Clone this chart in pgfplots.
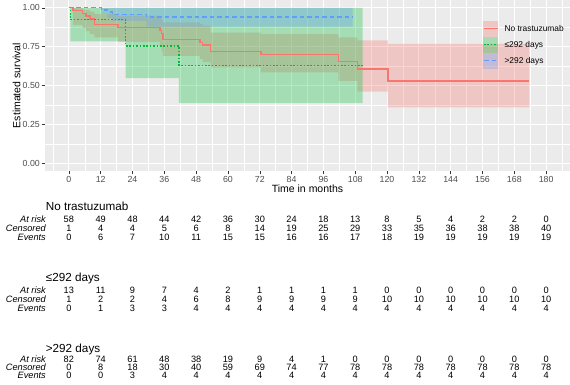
\documentclass[border=0pt]{standalone}
\usepackage{pgfplots}
\pgfplotsset{compat=1.18}
\usepackage{pgfplotstable}
\usepgfplotslibrary{fillbetween}
\usepackage{fontspec}
\setmainfont{Liberation Sans}
\definecolor{cRed}{HTML}{F8766D}
\definecolor{cGreen}{HTML}{00BA38}
\definecolor{cBlue}{HTML}{619CFF}
\definecolor{panel}{HTML}{EBEBEB}
\definecolor{tickcol}{HTML}{333333}
\definecolor{labcol}{HTML}{4D4D4D}

% survival curves: time, estimate, lower, upper
\pgfplotstableread{
t S L U
0 1 1 1
1.6 0.982 0.89 0.998
5.2 0.965 0.87 0.99
6.4 0.947 0.85 0.985
7.9 0.929 0.83 0.975
9.6 0.891 0.81 0.96
18.6 0.874 0.78 0.95
34.3 0.853 0.75 0.935
35.0 0.834 0.72 0.92
35.5 0.797 0.69 0.906
49.4 0.778 0.67 0.895
50.5 0.760 0.65 0.885
53.5 0.720 0.617 0.84
72.4 0.698 0.585 0.83
101.6 0.655 0.53 0.81
108.8 0.605 0.46 0.79
120.3 0.528 0.36 0.767
173.7 0.528 0.36 0.767
}\redT
\pgfplotstableread{
t S L U
0 1 1 1
0.6 0.923 0.784 1
21.4 0.755 0.547 1
41.5 0.629 0.387 1
110.8 0.629 0.387 1
}\greenT
\pgfplotstableread{
t S L U
0 1 1 1
12.3 0.986 0.96 1
14.5 0.972 0.935 1
16.5 0.958 0.915 1
29.3 0.940 0.878 1
107 0.940 0.878 1
}\blueT

% risk tables
\pgfplotstableread{
t risk cens ev
0 58 1 0
12 49 4 6
24 48 4 7
36 44 5 10
48 42 6 11
60 36 8 15
72 30 14 15
84 24 19 16
96 18 25 16
108 13 29 17
120 8 33 18
132 5 35 19
144 4 36 19
156 2 38 19
168 2 38 19
180 0 40 19
}\tabA
\pgfplotstableread{
t risk cens ev
0 13 1 0
12 11 2 1
24 9 2 3
36 7 4 3
48 4 6 4
60 2 8 4
72 1 9 4
84 1 9 4
96 1 9 4
108 1 9 4
120 0 10 4
132 0 10 4
144 0 10 4
156 0 10 4
168 0 10 4
180 0 10 4
}\tabB
\pgfplotstableread{
t risk cens ev
0 82 0 0
12 74 8 0
24 61 18 3
36 48 30 4
48 38 40 4
60 19 59 4
72 9 69 4
84 4 74 4
96 1 77 4
108 0 78 4
120 0 78 4
132 0 78 4
144 0 78 4
156 0 78 4
168 0 78 4
180 0 78 4
}\tabC

\begin{document}
\begin{tikzpicture}
\begin{axis}[
  at={(45pt,0pt)}, anchor=north west,
  width=525pt, height=171pt, scale only axis,
  xmin=-9, xmax=189, ymin=-0.05, ymax=1.05,
  axis background/.style={fill=panel},
  axis line style={draw=none},
  xtick={0,12,...,180}, ytick={0,0.25,0.5,0.75,1},
  minor xtick={-6,6,...,186}, minor ytick={0.125,0.375,0.625,0.875},
  grid=both,
  major grid style={white, line width=1pt},
  minor grid style={white, line width=0.5pt},
  tick pos=left, tick align=outside,
  major tick length=2.75pt, minor tick length=0pt,
  tick style={tickcol, line width=0.5pt},
  /pgf/number format/assume math mode=true,
  ticklabel style={font=\fontsize{8.8}{10}\selectfont, text=labcol, inner sep=0pt},
  yticklabel style={/pgf/number format/fixed, /pgf/number format/fixed zerofill, /pgf/number format/precision=2, xshift=-2.2pt},
  xticklabel style={yshift=-2.2pt},
]
\addplot[draw=none, const plot, name path=rU] table[x=t,y=U]{\redT};
\addplot[draw=none, const plot, name path=rL] table[x=t,y=L]{\redT};
\addplot[fill=cRed, fill opacity=0.3, draw=none] fill between[of=rU and rL];
\addplot[draw=none, const plot, name path=gU] table[x=t,y=U]{\greenT};
\addplot[draw=none, const plot, name path=gL] table[x=t,y=L]{\greenT};
\addplot[fill=cGreen, fill opacity=0.3, draw=none] fill between[of=gU and gL];
\addplot[draw=none, const plot, name path=bU] table[x=t,y=U]{\blueT};
\addplot[draw=none, const plot, name path=bL] table[x=t,y=L]{\blueT};
\addplot[fill=cBlue, fill opacity=0.3, draw=none] fill between[of=bU and bL];

\addplot[cRed, line width=1.4pt, const plot, mark=none] table[x=t,y=S]{\redT};
\addplot[cGreen, line width=1.3pt, const plot, mark=none, dash pattern=on 1.6pt off 1.8pt] table[x=t,y=S]{\greenT};
\addplot[cBlue, line width=1.3pt, const plot, mark=none, dash pattern=on 4.5pt off 3pt] table[x=t,y=S]{\blueT};
\end{axis}

\begin{axis}[
  at={(45pt,-171pt)}, anchor=north west,
  width=525pt, height=214pt, scale only axis,
  xmin=-9, xmax=189, ymin=171, ymax=385, y dir=reverse,
  hide axis, clip=false,
  nodes near coords, point meta=explicit symbolic,
  every node near coord/.style={anchor=base, inner sep=0pt, font=\fontsize{9.2}{9}\selectfont, text=black},
]
\addplot[draw=none, mark=none] table[x=t, y expr=222.7, meta=risk]{\tabA};
\addplot[draw=none, mark=none] table[x=t, y expr=231.5, meta=cens]{\tabA};
\addplot[draw=none, mark=none] table[x=t, y expr=240.2, meta=ev]{\tabA};
\addplot[draw=none, mark=none] table[x=t, y expr=293.5, meta=risk]{\tabB};
\addplot[draw=none, mark=none] table[x=t, y expr=302.5, meta=cens]{\tabB};
\addplot[draw=none, mark=none] table[x=t, y expr=311.0, meta=ev]{\tabB};
\addplot[draw=none, mark=none] table[x=t, y expr=362.7, meta=risk]{\tabC};
\addplot[draw=none, mark=none] table[x=t, y expr=370.7, meta=cens]{\tabC};
\addplot[draw=none, mark=none] table[x=t, y expr=378.7, meta=ev]{\tabC};
\end{axis}

\begin{scope}[x=1pt,y=-1pt]
% axis titles
\node[anchor=base, inner sep=0pt, font=\fontsize{10.5}{12}\selectfont] at (307.5,192.5) {Time in months};
\node[anchor=center, inner sep=0pt, rotate=90, font=\fontsize{10.5}{12}\selectfont] at (16.5,85.5) {Estimated survival};
% legend
\fill[cRed, opacity=0.3] (483.3,20.7) rectangle (498.3,36.7);
\fill[cGreen, opacity=0.3] (483.3,36.7) rectangle (498.3,52.7);
\fill[cBlue, opacity=0.3] (483.3,52.7) rectangle (498.3,68.7);
\draw[cRed, line width=1.3pt] (484,28.7) -- (497.6,28.7);
\draw[cGreen, line width=1.3pt, dash pattern=on 1.6pt off 1.8pt] (484,44.7) -- (497.6,44.7);
\draw[cBlue, line width=1.3pt, dash pattern=on 4.5pt off 3pt] (484,60.7) -- (497.6,60.7);
\node[anchor=west, inner sep=0pt, font=\fontsize{8.4}{10}\selectfont] at (504.3,28.9) {No trastuzumab};
\node[anchor=west, inner sep=0pt, font=\fontsize{8.4}{10}\selectfont] at (504.3,44.9) {≤292 days};
\node[anchor=west, inner sep=0pt, font=\fontsize{8.4}{10}\selectfont] at (504.3,60.9) {>292 days};
% table titles
\node[anchor=base west, inner sep=0pt, font=\fontsize{11.7}{13}\selectfont] at (45.7,210.2) {No trastuzumab};
\node[anchor=base west, inner sep=0pt, font=\fontsize{11.7}{13}\selectfont] at (45.7,281.7) {≤292 days};
\node[anchor=base west, inner sep=0pt, font=\fontsize{11.7}{13}\selectfont] at (45.7,352.7) {>292 days};
% row labels
\foreach \yA/\yB/\yC in {222.7/231.5/240.2, 293.5/302.5/311.0, 362.7/370.7/378.7}{
  \node[anchor=base east, inner sep=0pt, font=\itshape\fontsize{9.2}{10}\selectfont] at (46,\yA) {At risk};
  \node[anchor=base east, inner sep=0pt, font=\itshape\fontsize{9.2}{10}\selectfont] at (46,\yB) {Censored};
  \node[anchor=base east, inner sep=0pt, font=\itshape\fontsize{9.2}{10}\selectfont] at (46,\yC) {Events};
}
\end{scope}
\pgfresetboundingbox
\useasboundingbox (0,0) rectangle (570pt,-385pt);
\end{tikzpicture}
\end{document}
